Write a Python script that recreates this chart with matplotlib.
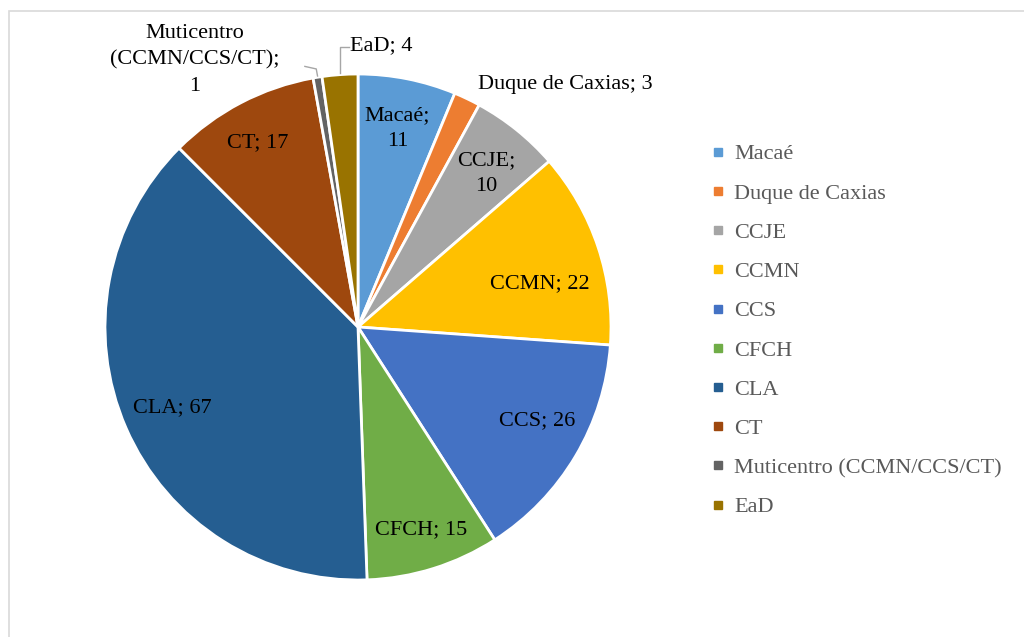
import numpy as np
import matplotlib.pyplot as plt
from matplotlib.lines import Line2D
from matplotlib.patches import Rectangle

centros = ['Macaé', 'Duque de Caxias', 'CCJE', 'CCMN', 'CCS', 'CFCH', 'CLA', 'CT',
           'Muticentro (CCMN/CCS/CT)', 'EaD']
valores = [11, 3, 10, 22, 26, 15, 67, 17, 1, 4]
cores = ['#5B9BD5', '#ED7D31', '#A5A5A5', '#FFC000', '#4472C4', '#70AD47',
         '#255E91', '#9E480E', '#636363', '#997300']

plt.rcParams['font.family'] = ['Liberation Serif', 'DejaVu Serif']

fig = plt.figure(figsize=(10.24, 6.37), dpi=100)
# light chart-area border (left and top visible)
fig.patches.append(Rectangle((9 / 1024, -0.1), 1.2, 1.1 - 11 / 637,
                             transform=fig.transFigure, fill=False,
                             edgecolor='#D9D9D9', linewidth=1.2))

ax = fig.add_axes([105 / 1024, (637 - 580) / 637, 506 / 1024, 506 / 637])
wedges, _ = ax.pie(valores, colors=cores, startangle=90, counterclock=False, radius=1,
                   wedgeprops=dict(edgecolor='white', linewidth=2))
ax.set_xlim(-1, 1)
ax.set_ylim(-1, 1)
ax.set_aspect('equal')
ax.axis('off')

total = sum(valores)
cum = np.cumsum(valores) - np.array(valores) / 2
angles = 90 - cum / total * 360

fs = 16
txt_color = '#000000'
# labels inside the slices: text, radius, angle nudge (deg)
inside = {'Macaé': ('Macaé;\n11', 0.80, 0),
          'CCJE': ('CCJE;\n10', 0.79, -1),
          'CCMN': ('CCMN; 22', 0.74, -5),
          'CCS': ('CCS; 26', 0.80, 3),
          'CFCH': ('CFCH; 15', 0.84, 0),
          'CLA': ('CLA; 67', 0.80, 0),
          'CT': ('CT; 17', 0.83, 1)}
for name, ang in zip(centros, angles):
    if name in inside:
        txt, r, da = inside[name]
        a = np.deg2rad(ang + da)
        ax.text(r * np.cos(a), r * np.sin(a), txt, ha='center', va='center',
                fontsize=fs, color=txt_color, linespacing=1.5, clip_on=False)

# outside labels
ax.text(0.818, 0.96, 'Duque de Caxias; 3', ha='center', va='center', fontsize=fs,
        color=txt_color, clip_on=False)
ax.text(-0.644, 1.055, 'Muticentro\n(CCMN/CCS/CT);\n1', ha='center', va='center',
        fontsize=fs, color=txt_color, linespacing=1.55, clip_on=False)
ax.text(0.09, 1.11, 'EaD; 4', ha='center', va='center', fontsize=fs,
        color=txt_color, clip_on=False)

# leader lines
a_mc = np.deg2rad(angles[8])
ax.plot([-0.21, -0.165, np.cos(a_mc)], [1.03, 1.02, np.sin(a_mc) + 0.005],
        color='#A6A6A6', lw=1, clip_on=False)
a_ead = np.deg2rad(angles[9])
ax.plot([-0.035, np.cos(a_ead), np.cos(a_ead)], [1.105, 1.105, np.sin(a_ead) + 0.005],
        color='#A6A6A6', lw=1, clip_on=False)

handles = [Line2D([], [], marker='s', linestyle='none', markersize=6,
                  markerfacecolor=c, markeredgecolor=c) for c in cores]
fig.legend(handles, centros, loc='upper left', bbox_to_anchor=(703 / 1024, 1 - 135 / 637),
           frameon=False, fontsize=fs, labelcolor='#595959', labelspacing=0.84,
           handlelength=0.55, handletextpad=0.45, borderaxespad=0)

fig.savefig('out.png', dpi=100)
